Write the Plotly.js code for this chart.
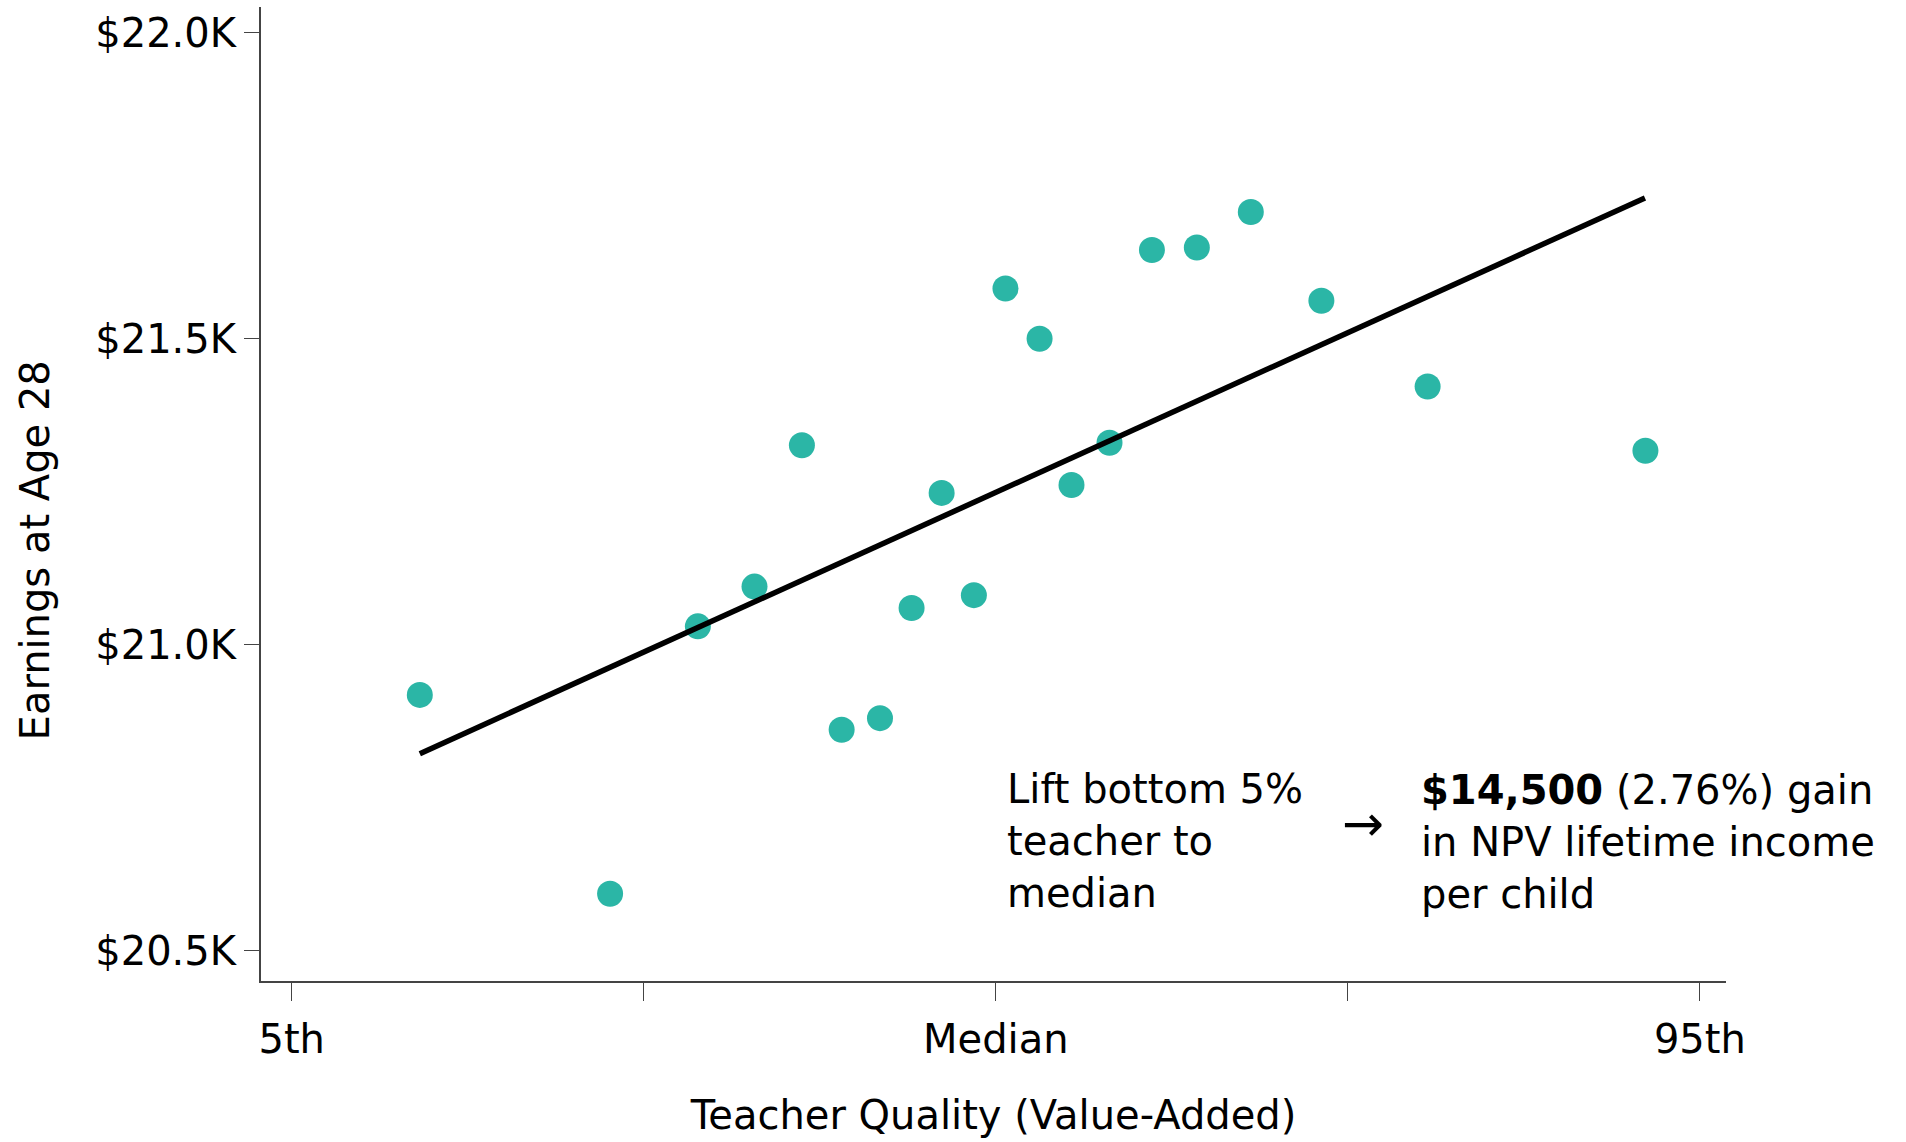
<!DOCTYPE html>
<html>
<head>
<meta charset="utf-8">
<script src="https://cdn.plot.ly/plotly-3.0.1.min.js"></script>
<style>html,body{margin:0;padding:0;background:#fff;}#chart{width:1906px;height:1142px;}</style>
</head>
<body>
<div id="chart"></div>
<script>
// Teacher quality percentile (x) and earnings at age 28 in $K (y)
const qualityPct = [13.19, 25.35, 30.96, 34.58, 37.61, 40.15, 42.60, 44.62, 46.54, 48.60,
                    50.62, 52.80, 54.84, 57.27, 59.98, 62.85, 66.30, 70.81, 77.60, 91.52];
const earningsK  = [20.918, 20.593, 21.030, 21.095, 21.326, 20.861, 20.880, 21.060, 21.248, 21.081,
                    21.582, 21.500, 21.261, 21.330, 21.645, 21.649, 21.707, 21.562, 21.422, 21.317];
// Fitted line endpoints
const fitX = [13.19, 91.49];
const fitY = [20.822, 21.730];
// Tick labels
const xTickVals = [5, 27.5, 50, 72.5, 95];
const xTickText = ['5th', '', 'Median', '', '95th'];
const yTickVals = [20.5, 21.0, 21.5, 22.0];
const yTickText = ['$20.5K', '$21.0K', '$21.5K', '$22.0K'];

const FONT = '"DejaVu Sans", "Liberation Sans", sans-serif';

const traces = [
  {x: qualityPct, y: earningsK, type: 'scatter', mode: 'markers',
   marker: {size: 26, color: '#2BB6A6', line: {width: 0}}, cliponaxis: false, hoverinfo: 'skip'},
  {x: fitX, y: fitY, type: 'scatter', mode: 'lines',
   line: {color: '#000000', width: 5.5}, hoverinfo: 'skip'}
];

const layout = {
  width: 1906, height: 1142,
  margin: {l: 261, r: 180, t: 7, b: 161},
  paper_bgcolor: '#ffffff', plot_bgcolor: '#ffffff',
  showlegend: false,
  font: {family: FONT, size: 40, color: '#000000'},
  xaxis: {
    range: [3.04, 96.67], showgrid: false, zeroline: false,
    showline: true, linecolor: '#444444', linewidth: 2,
    ticks: 'outside', ticklen: 18, tickwidth: 1, tickcolor: '#444444',
    tickvals: xTickVals, ticktext: xTickText,
    tickfont: {family: FONT, size: 40, color: '#000000'},
    ticklabelstandoff: 4,
    title: {text: 'Teacher Quality (Value-Added)', font: {family: FONT, size: 40, color: '#000000'}, standoff: 40},
    automargin: false
  },
  yaxis: {
    range: [20.4505, 22.042], showgrid: false, zeroline: false,
    showline: true, linecolor: '#444444', linewidth: 2,
    ticks: 'outside', ticklen: 15, tickwidth: 1, tickcolor: '#444444',
    tickvals: yTickVals, ticktext: yTickText,
    tickfont: {family: FONT, size: 40, color: '#000000'},
    automargin: false
  },
  annotations: [
    {x: -0.154, y: 0.4425, xref: 'paper', yref: 'paper', xanchor: 'center', yanchor: 'middle',
     textangle: -90, showarrow: false, text: 'Earnings at Age 28',
     font: {family: FONT, size: 40, color: '#000000'}},
    {x: 50.62, y: 20.679, xref: 'x', yref: 'y', xanchor: 'left', yanchor: 'middle', align: 'left',
     showarrow: false, text: 'Lift bottom 5%<br>teacher to<br>median',
     font: {family: FONT, size: 40, color: '#000000'}},
    {x: 73.5, y: 20.707, xref: 'x', yref: 'y', xanchor: 'center', yanchor: 'middle',
     showarrow: false, text: '→', font: {family: FONT, size: 50, color: '#000000'}},
    {x: 77.05, y: 20.678, xref: 'x', yref: 'y', xanchor: 'left', yanchor: 'middle', align: 'left',
     showarrow: false, text: '<b>$14,500</b> (2.76%) gain<br>in NPV lifetime income<br>per child',
     font: {family: FONT, size: 40, color: '#000000'}}
  ]
};

Plotly.newPlot('chart', traces, layout, {displayModeBar: false, staticPlot: true});
</script>
</body>
</html>
